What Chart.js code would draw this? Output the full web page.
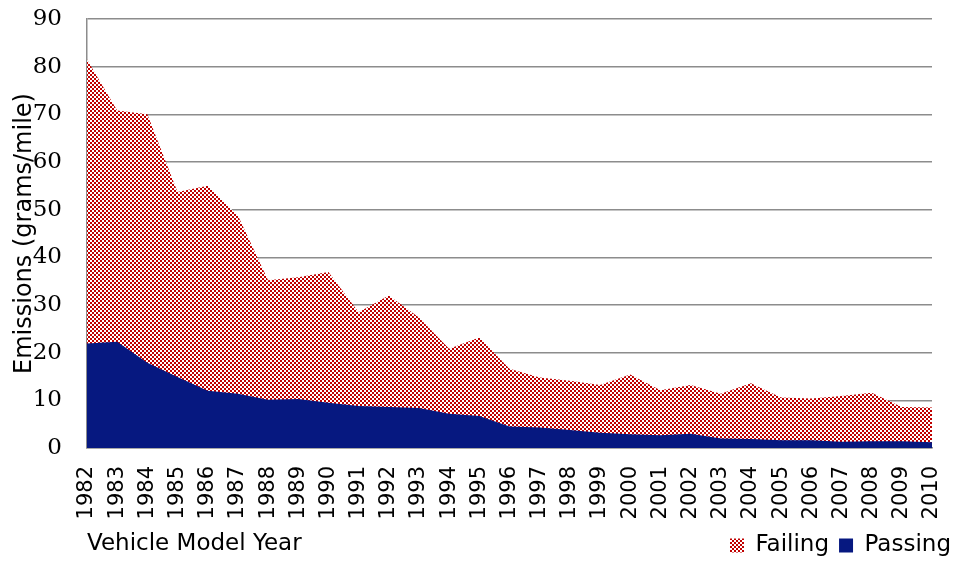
<!DOCTYPE html>
<html>
<head>
<meta charset="utf-8">
<title>Emissions by Vehicle Model Year</title>
<script src="https://cdn.jsdelivr.net/npm/chart.js@4/dist/chart.umd.min.js"></script>
<style>
  html, body { margin: 0; padding: 0; background: #ffffff; }
  #wrap { width: 961px; height: 561px; }
</style>
</head>
<body>
<div id="wrap"><canvas id="emissionsChart" width="961" height="561"></canvas></div>
<script>
/* ===============================
   DATA
================================ */

const years = ["1982", "1983", "1984", "1985", "1986", "1987", "1988", "1989", "1990",
  "1991", "1992", "1993", "1994", "1995", "1996", "1997", "1998", "1999", "2000",
  "2001", "2002", "2003", "2004", "2005", "2006", "2007", "2008", "2009", "2010"];

const failing = [81.5, 70.8, 70.0, 53.7, 55.0, 48.8, 35.2, 35.8, 36.9, 28.5, 32.0, 27.4,
  20.8, 23.2, 16.6, 14.8, 14.1, 13.2, 15.4, 12.1, 13.2, 11.4, 13.6, 10.6, 10.4, 10.9,
  11.6, 8.6, 8.5];

const passing = [21.9, 22.3, 17.9, 14.9, 12.0, 11.4, 10.1, 10.3, 9.5, 8.8, 8.6, 8.4,
  7.2, 6.7, 4.5, 4.3, 3.8, 3.2, 2.9, 2.7, 3.0, 2.0, 1.9, 1.6, 1.6, 1.3, 1.4, 1.4, 1.2];

const yTicks = [0, 10, 20, 30, 40, 50, 60, 70, 80, 90];

/* ===============================
   CHECKERBOARD PATTERN (FAILING)
================================ */

function checkerPattern(ctx) {
  const p = document.createElement("canvas");
  p.width = 4;
  p.height = 4;
  const pc = p.getContext("2d");
  pc.fillStyle = "#ffffff";
  pc.fillRect(0, 0, 4, 4);
  pc.fillStyle = "#c00000";
  pc.fillRect(0, 0, 2, 2);
  pc.fillRect(2, 2, 2, 2);
  return ctx.createPattern(p, "repeat");
}

/* ===============================
   AREA CHART
================================ */

const canvas = document.getElementById("emissionsChart");
const ctx = canvas.getContext("2d");
const gridGray = "#8c8c8c";

new Chart(ctx, {
  type: "line",
  data: {
    labels: years,
    datasets: [
      {
        label: "Failing",
        data: failing,
        backgroundColor: checkerPattern(ctx),
        borderColor: "rgba(0,0,0,0)",
        borderWidth: 0,
        fill: "origin",
        pointRadius: 0,
        tension: 0,
        order: 1,
      },
      {
        label: "Passing",
        data: passing,
        backgroundColor: "#061880",
        borderColor: "rgba(0,0,0,0)",
        borderWidth: 0,
        fill: "origin",
        pointRadius: 0,
        tension: 0,
        order: 0,
      },
    ],
  },
  options: {
    responsive: false,
    devicePixelRatio: 1,
    animation: false,
    layout: {
      padding: { top: 0, right: 0, left: 0, bottom: -6 },
    },
    plugins: {
      legend: {
        position: "bottom",
        align: "end",
        labels: {
          color: "#000000",
          boxWidth: 14,
          boxHeight: 14,
          padding: 10,
          font: { family: "DejaVu Sans", size: 23 },
          sort: (a, b) => a.datasetIndex - b.datasetIndex,
        },
      },
      tooltip: { enabled: false },
    },
    scales: {
      x: {
        offset: false,
        afterFit: (axis) => {
          axis.height = 76;
          axis.paddingLeft = 0;
          axis.paddingRight = 29;
        },
        grid: { display: false, drawTicks: false },
        border: { display: true, color: gridGray, width: 1.5 },
        ticks: {
          color: "#000000",
          font: { family: "DejaVu Sans", size: 21 },
          minRotation: 90,
          maxRotation: 90,
          autoSkip: false,
          padding: 18,
        },
        title: {
          display: true,
          text: "Vehicle Model Year",
          align: "start",
          color: "#000000",
          font: { family: "DejaVu Sans", size: 23 },
          padding: { top: 0, bottom: -34 },
        },
      },
      y: {
        min: 0,
        max: 90,
        afterBuildTicks: (axis) => {
          axis.ticks = yTicks.map((v) => ({ value: v }));
        },
        afterFit: (axis) => {
          axis.width = 87;
          axis.paddingTop = 19;
          axis.paddingBottom = 0;
        },
        grid: { color: gridGray, lineWidth: 1.5, drawTicks: false },
        border: { display: true, color: gridGray, width: 1.5 },
        ticks: {
          color: "#000000",
          font: { family: "DejaVu Serif", size: 23 },
          padding: 25,
        },
        title: {
          display: true,
          text: "Emissions (grams/mile)",
          color: "#000000",
          font: { family: "DejaVu Sans", size: 24 },
          padding: { top: 10, bottom: 0 },
        },
      },
    },
  },
});
</script>
</body>
</html>
